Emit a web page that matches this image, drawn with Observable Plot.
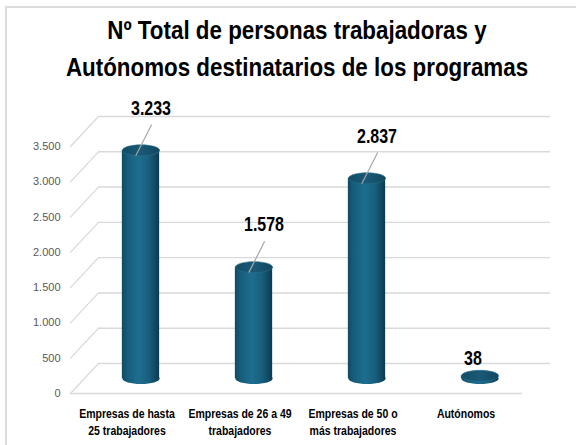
<!DOCTYPE html>
<html>
<head>
<meta charset="utf-8">
<script src="https://cdn.jsdelivr.net/npm/d3@7"></script>
<script src="https://cdn.jsdelivr.net/npm/@observablehq/plot@0.6"></script>
<style>
  html, body { margin: 0; padding: 0; background: #fff; }
  #wrap { position: relative; width: 576px; height: 445px; overflow: hidden; }
  #title {
    position: absolute; left: 0; top: 12px; width: 594px; text-align: center;
    font-family: 'Liberation Sans', Arial, sans-serif;
    font-weight: bold; font-size: 26px; line-height: 37px; color: #000;
    transform: scaleX(0.86); transform-origin: 297px 0;
  }
  #chart { position: absolute; left: 0; top: 0; }
  #bt { position: absolute; left: 6px; top: 6px; width: 570px; height: 2px; background: #dcdcdc; }
  #bl { position: absolute; left: 5px; top: 6px; width: 2px; height: 439px; background: #dcdcdc; }
</style>
</head>
<body>
<div id="wrap">
  <div id="chart"></div>
  <div id="bt"></div><div id="bl"></div>
  <div id="title">Nº Total de personas trabajadoras y<br>Autónomos destinatarios de los programas</div>
</div>
<script>
const categories = ["Empresas de hasta\n25 trabajadores", "Empresas de 26 a 49\ntrabajadores", "Empresas de 50 o\nmás trabajadores", "Autónomos"];
const values = [3233, 1578, 2837, 38];
const yTicks = [0, 500, 1000, 1500, 2000, 2500, 3000, 3500];

const data = categories.map((cat, i) => ({cat, value: values[i], pos: i + 0.5}));

const loc = d3.formatLocale({decimal: ",", thousands: ".", grouping: [3], currency: ["", " €"]});
const fmt = loc.format(",");

const FONT = "'Liberation Sans', Arial, sans-serif";

const line = {draw(ctx, l) { ctx.moveTo(0, 0); ctx.lineTo(0, -l); }};
const ellipse = {draw(ctx) {
  const rx = 18.6, ry = 5.5, k = 0.5523;
  ctx.moveTo(-rx, 0);
  ctx.bezierCurveTo(-rx, -ry * k, -rx * k, -ry, 0, -ry);
  ctx.bezierCurveTo(rx * k, -ry, rx, -ry * k, rx, 0);
  ctx.bezierCurveTo(rx, ry * k, rx * k, ry, 0, ry);
  ctx.bezierCurveTo(-rx * k, ry, -rx, ry * k, -rx, 0);
  ctx.closePath();
}};

const svg = Plot.plot({
  width: 576, height: 445,
  marginLeft: 70, marginRight: 54, marginTop: 146, marginBottom: 52,
  style: {fontFamily: FONT, background: "transparent", overflow: "visible"},
  x: {domain: [0, 4], axis: null},
  y: {domain: [0, 3500], axis: null},
  marks: [
    Plot.ruleY(yTicks, {dx: 28, dy: -30, stroke: "#d9d9d9", strokeWidth: 1.4}),
    Plot.vector(yTicks, {x: 0, y: d => d, length: 41, rotate: 43, anchor: "start", shape: line, stroke: "#d9d9d9", strokeWidth: 1.2}),
    Plot.ruleY([0], {stroke: "#d9d9d9", strokeWidth: 1.4}),
    Plot.axisY(yTicks, {tickSize: 0, tickPadding: 10, tickFormat: fmt, fontSize: 11, fill: "#595959", label: null}),
    Plot.dot(data, {x: "pos", y: 0, symbol: ellipse, fill: "url(#cyl)", stroke: "none", dx: 14, dy: -15}),
    Plot.rect(data, {x1: d => d.pos - 0.165, x2: d => d.pos + 0.165, y1: 0, y2: "value", dx: 14, dy: -15, fill: "url(#cyl)"}),
    Plot.dot(data, {x: "pos", y: "value", symbol: ellipse, fill: "url(#cap)", stroke: "#2a7090", strokeWidth: 0.6, dx: 14, dy: -15}),
    Plot.vector(data.filter(d => d.value >= 100), {x: "pos", y: "value", length: 34, rotate: 27, anchor: "start", shape: line, stroke: "#a6a6a6", strokeWidth: 1.2, dx: 9, dy: -10}),
    Plot.text(data.filter(d => d.value >= 100), {x: "pos", y: "value", text: d => fmt(d.value), dx: 24, dy: -57, fontSize: 19.5, fontWeight: "bold", fill: "#000"}),
    Plot.text(data.filter(d => d.value < 100), {x: "pos", y: "value", text: d => fmt(d.value), dx: 7, dy: -32, fontSize: 19.5, fontWeight: "bold", fill: "#000"}),
    Plot.text(data, {x: "pos", y: 0, text: "cat", lineAnchor: "top", dy: 12, fontSize: 12.8, fontWeight: "bold", lineHeight: 1.33, fill: "#000"})
  ]
});

svg.insertAdjacentHTML("afterbegin", `<defs>
  <linearGradient id="cyl" x1="0" y1="0" x2="1" y2="0">
    <stop offset="0" stop-color="#0f4a64"/>
    <stop offset="0.15" stop-color="#175d7b"/>
    <stop offset="0.45" stop-color="#1e6e8f"/>
    <stop offset="0.72" stop-color="#185f7d"/>
    <stop offset="1" stop-color="#0c3b52"/>
  </linearGradient>
  <linearGradient id="cap" x1="0" y1="0" x2="1" y2="0">
    <stop offset="0" stop-color="#134c65"/>
    <stop offset="0.5" stop-color="#195a76"/>
    <stop offset="1" stop-color="#124660"/>
  </linearGradient>
</defs>`);

// narrow (condensed) look for the bold texts, scaled about each text's own anchor
svg.querySelectorAll('g[aria-label="text"] text').forEach(t => {
  const tr = t.getAttribute("transform");
  if (tr) t.setAttribute("transform", tr + " scale(0.82,1)");
});

document.getElementById("chart").appendChild(svg);
</script>
</body>
</html>
